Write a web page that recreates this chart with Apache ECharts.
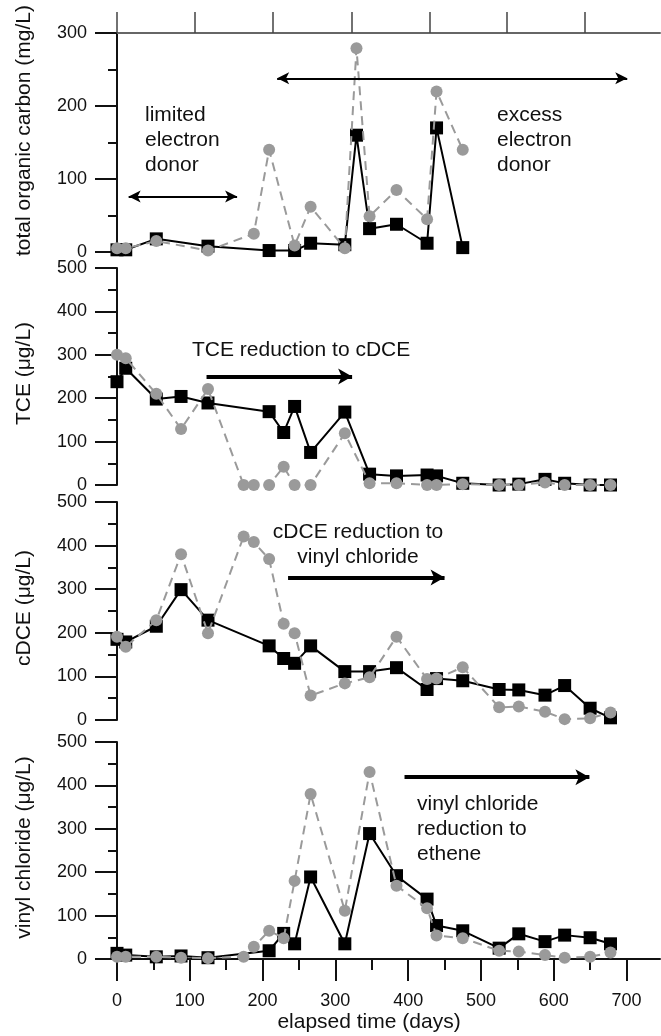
<!DOCTYPE html>
<html lang="en">
<head>
<meta charset="UTF-8" />
<title>Chart</title>
<style>
  html, body { margin: 0; padding: 0; background: #fff; }
  #main { width: 661px; height: 1036px; }
</style>
</head>
<body>
<div id="main"></div>
<script src="https://cdn.jsdelivr.net/npm/echarts@6.0.0/dist/echarts.min.js"></script>
<script>
// sampling days (elapsed time, days)
const tocDaysA = [0, 12, 54, 125, 209, 244, 266, 313, 329, 347, 384, 426, 439, 475];
const tocDaysB = [0, 12, 54, 125, 188, 209, 244, 266, 313, 329, 347, 384, 426, 439, 475];
const daysA = [0, 12, 54, 88, 125, 209, 229, 244, 266, 313, 347, 384, 426, 439, 475, 525, 552, 588, 615, 650, 678];
const daysB = [0, 12, 54, 88, 125, 174, 188, 209, 229, 244, 266, 313, 347, 384, 426, 439, 475, 525, 552, 588, 615, 650, 678];

// black squares (solid) / grey circles (dashed)
const tocA = [3, 3, 18, 8, 2, 2, 12, 10, 160, 32, 38, 12, 170, 6];
const tocB = [5, 5, 15, 2, 25, 140, 9, 62, 5, 279, 49, 85, 45, 220, 140];
const tceA = [238, 269, 198, 204, 189, 169, 121, 181, 75, 168, 25, 21, 23, 21, 4, 0, 2, 13, 4, 0, 0];
const tceB = [300, 292, 210, 129, 221, 0, 0, 0, 42, 0, 0, 119, 4, 4, 0, 0, 2, 0, 0, 6, 0, 0, 0];
const cdceA = [185, 179, 215, 299, 229, 170, 141, 130, 170, 111, 111, 120, 70, 95, 90, 70, 69, 57, 79, 27, 5];
const cdceB = [191, 168, 229, 380, 199, 421, 408, 369, 221, 199, 56, 84, 98, 191, 94, 95, 121, 29, 31, 19, 2, 4, 17];
const vcA = [13, 9, 5, 7, 3, 19, 59, 35, 189, 35, 289, 192, 138, 77, 65, 25, 58, 40, 55, 49, 35];
const vcB = [5, 5, 5, 3, 2, 5, 28, 65, 48, 180, 380, 111, 431, 169, 117, 54, 48, 19, 17, 9, 3, 5, 15];

// axes
const yMax = [300, 500, 500, 500];
const yNames = ["total organic carbon (mg/L)", "TCE (\u03bcg/L)", "cDCE (\u03bcg/L)", "vinyl chloride (\u03bcg/L)"];
const xTicks = [0, 100, 200, 300, 400, 500, 600, 700];
const xMinorTicks = [50, 150, 250, 350, 450, 550, 650];
const topTicks = [0, 107, 214, 322, 429, 536, 643];
const xMax = 746;

// annotation arrows: [panel, from day, to day, y value, double headed]
const arrows = [
  [0, 16, 165, 76, true],
  [0, 220, 701, 238, true],
  [1, 123, 323, 250, false],
  [2, 235, 450, 327, false],
  [3, 395, 649, 419, false],
];

const FONT = '"Liberation Sans", Arial, Helvetica, sans-serif';
const pairs = (xs, ys) => xs.map((x, i) => [x, ys[i]]);

const panels = [
  { a: pairs(tocDaysA, tocA), b: pairs(tocDaysB, tocB) },
  { a: pairs(daysA, tceA), b: pairs(daysB, tceB) },
  { a: pairs(daysA, cdceA), b: pairs(daysB, cdceB) },
  { a: pairs(daysA, vcA), b: pairs(daysB, vcB) },
];

const gridBox = [
  { top: 33, height: 219 },
  { top: 268, height: 217 },
  { top: 502, height: 218 },
  { top: 742, height: 217 },
];

let chart = echarts.init(document.getElementById("main"), null, { renderer: "canvas" });

let grid = gridBox.map(function (g) {
  return { left: 117, width: 543, top: g.top, height: g.height, containLabel: false, outerBoundsMode: "none" };
});

let xAxis = [
  {
    gridIndex: 0, type: "value", position: "top", min: 0, max: xMax,
    axisLine: { show: true, onZero: false, lineStyle: { color: "#666", width: 2 } },
    axisTick: { show: true, inside: false, length: 21, customValues: topTicks, lineStyle: { color: "#444", width: 1.5 } },
    axisLabel: { show: false },
    splitLine: { show: false },
  },
  { gridIndex: 1, type: "value", min: 0, max: xMax, show: false },
  { gridIndex: 2, type: "value", min: 0, max: xMax, show: false },
  {
    gridIndex: 3, type: "value", position: "bottom", min: 0, max: xMax,
    name: "elapsed time (days)", nameLocation: "middle", nameGap: 53,
    nameTextStyle: { fontFamily: FONT, fontSize: 21, color: "#111", padding: [0, 39, 0, 0] },
    axisLine: { show: true, onZero: false, lineStyle: { color: "#111", width: 2 } },
    axisTick: { show: true, length: 22, customValues: xTicks, lineStyle: { color: "#111", width: 2 } },
    axisLabel: { show: true, customValues: xTicks, margin: 33, fontFamily: FONT, fontSize: 18, color: "#111" },
    splitLine: { show: false },
  },
  {
    gridIndex: 3, type: "value", position: "bottom", min: 0, max: xMax,
    axisLine: { show: false, onZero: false },
    axisTick: { show: true, length: 11, customValues: xMinorTicks, lineStyle: { color: "#111", width: 2 } },
    axisLabel: { show: false },
    splitLine: { show: false },
  },
];

let yAxis = yMax.map(function (m, i) {
  return {
    gridIndex: i, type: "value", min: 0, max: m, interval: 100,
    name: yNames[i], nameLocation: "middle", nameGap: 82,
    nameTextStyle: { fontFamily: FONT, fontSize: 21, color: "#111", padding: i === 0 ? [0, 0, 0, 24] : [0, 0, 0, 6] },
    axisLine: { show: true, onZero: false, lineStyle: { color: "#111", width: 2 } },
    axisTick: { show: true, length: 22, lineStyle: { color: "#111", width: 2 } },
    minorTick: { show: true, splitNumber: 2, length: 9, lineStyle: { color: "#111", width: 2 } },
    axisLabel: { fontFamily: FONT, fontSize: 18, color: "#111", margin: 30 },
    splitLine: { show: false },
    minorSplitLine: { show: false },
  };
});

let series = [];
panels.forEach(function (p, i) {
  let myArrows = arrows.filter(function (a) { return a[0] === i; });
  let thin = i === 0;
  series.push({
    type: "line", xAxisIndex: i, yAxisIndex: i, data: p.a,
    symbol: "rect", symbolSize: 13,
    itemStyle: { color: "#000" },
    lineStyle: { color: "#000", width: 2 },
    z: 2,
    markLine: {
      silent: true, animation: false,
      symbol: [myArrows[0][4] ? "arrow" : "none", "arrow"],
      symbolSize: thin ? [9, 12] : [12, 14],
      label: { show: false },
      emphasis: { disabled: true },
      lineStyle: { color: "#000", width: thin ? 2 : 4, type: "solid" },
      data: myArrows.map(function (a) {
        return [{ coord: [a[1], a[3]] }, { coord: [a[2], a[3]] }];
      }),
    },
  });
  series.push({
    type: "line", xAxisIndex: i, yAxisIndex: i, data: p.b,
    symbol: "circle", symbolSize: 12,
    itemStyle: { color: "#9a9a9a" },
    lineStyle: { color: "#9a9a9a", width: 2, type: [9, 6] },
    z: 3,
  });
});

function note(x, y, text, align) {
  return {
    type: "text", x: x, y: y, silent: true,
    style: {
      text: text, fill: "#111", font: "21px " + FONT, lineHeight: 25,
      textAlign: align || "left", textVerticalAlign: "top",
    },
  };
}

let option = {
  animation: false,
  backgroundColor: "#fff",
  grid: grid,
  xAxis: xAxis,
  yAxis: yAxis,
  series: series,
  graphic: [
    note(145, 103, "limited\nelectron\ndonor"),
    note(497, 103, "excess\nelectron\ndonor"),
    note(192, 338, "TCE reduction to cDCE"),
    note(358, 520, "cDCE reduction to\nvinyl chloride", "center"),
    note(417, 792, "vinyl chloride\nreduction to\nethene"),
  ],
};
chart.setOption(option);
</script>
</body>
</html>
